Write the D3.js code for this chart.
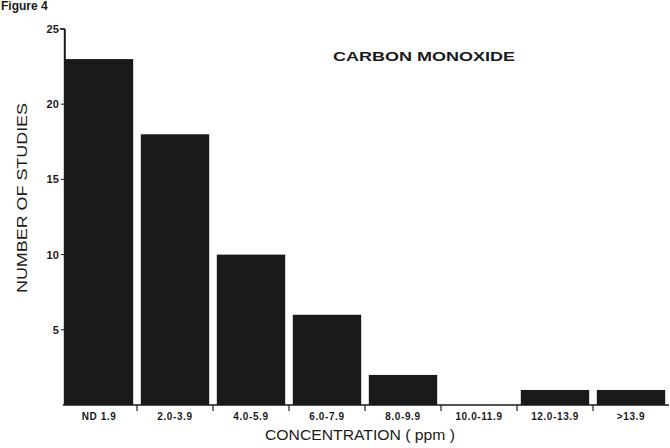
<!DOCTYPE html>
<html>
<head>
<meta charset="utf-8">
<script src="https://cdn.jsdelivr.net/npm/d3@7"></script>
<style>
  body { margin: 0; background: #fff; }
  text { font-family: "Liberation Sans", Arial, sans-serif; fill: #1a1a1a; }
</style>
</head>
<body>
<svg id="canvas"></svg>
<script>
var w = 670
var h = 448

// ########## Data ##########
var categories = ["ND 1.9", "2.0-3.9", "4.0-5.9", "6.0-7.9", "8.0-9.9", "10.0-11.9", "12.0-13.9", ">13.9"];
var studies = [23, 18, 10, 6, 2, 0, 1, 1];
var yTicks = [5, 10, 15, 20, 25];

// ########## SVG ##########
var svg = d3.select("#canvas")
    .attr("width", w)
    .attr("height", h);

svg.append("rect")
    .attr("width", w)
    .attr("height", h)
    .attr("fill", "#fff");

// ########## Scales ##########
var x = d3.scaleBand()
    .domain(categories)
    .range([61, 669])
    .paddingInner(0.1)
    .paddingOuter(0.05);

var y = d3.scaleLinear()
    .domain([0, 25])
    .range([405, 29]);

var ink = "#1a1a1a";

// ########## Bars ##########
svg.selectAll(".bar")
    .data(categories).enter()
    .append("rect")
    .attr("class", "bar")
    .attr("x", function (d) { return x(d); })
    .attr("y", function (d, i) { return y(studies[i]); })
    .attr("width", x.bandwidth())
    .attr("height", function (d, i) { return y(0) - y(studies[i]); })
    .attr("fill", ink);

// ########## Y axis ##########
var axisX = x(categories[0]);

svg.append("line")
    .attr("x1", axisX).attr("x2", axisX)
    .attr("y1", y(25)).attr("y2", y(0))
    .attr("stroke", ink).attr("stroke-width", 2);

svg.append("line")
    .attr("x1", axisX - 5).attr("x2", axisX)
    .attr("y1", y(25)).attr("y2", y(25))
    .attr("stroke", ink).attr("stroke-width", 1.5);

svg.selectAll(".ytick")
    .data(yTicks).enter()
    .append("line")
    .attr("class", "ytick")
    .attr("x1", axisX - 4).attr("x2", axisX)
    .attr("y1", function (d) { return y(d); })
    .attr("y2", function (d) { return y(d); })
    .attr("stroke", ink).attr("stroke-width", 1);

svg.selectAll(".ylabel")
    .data(yTicks).enter()
    .append("text")
    .attr("class", "ylabel")
    .attr("x", axisX - 6)
    .attr("y", function (d) { return y(d) + 4; })
    .attr("text-anchor", "end")
    .attr("font-size", 11)
    .attr("font-weight", "bold")
    .text(function (d) { return d; });

// ########## X axis ##########
svg.append("line")
    .attr("x1", axisX - 2).attr("x2", 669)
    .attr("y1", y(0)).attr("y2", y(0))
    .attr("stroke", ink).attr("stroke-width", 1.5);

var gap = x.step() - x.bandwidth();
svg.selectAll(".xtick")
    .data(categories.slice(1)).enter()
    .append("line")
    .attr("class", "xtick")
    .attr("x1", function (d) { return x(d) - gap / 2; })
    .attr("x2", function (d) { return x(d) - gap / 2; })
    .attr("y1", y(0))
    .attr("y2", y(0) + 6)
    .attr("stroke", ink).attr("stroke-width", 1.2);

svg.selectAll(".xlabel")
    .data(categories).enter()
    .append("text")
    .attr("class", "xlabel")
    .attr("x", function (d) { return x(d) + x.bandwidth() / 2; })
    .attr("y", 420)
    .attr("text-anchor", "middle")
    .attr("font-size", 10)
    .attr("font-weight", "bold")
    .attr("letter-spacing", 0.6)
    .text(function (d) { return d; });

// ########## Titles ##########
svg.append("text")
    .attr("x", 360)
    .attr("y", 440)
    .attr("text-anchor", "middle")
    .attr("font-family", "DejaVu Sans, sans-serif")
    .attr("font-size", 14)
    .attr("textLength", 190)
    .attr("lengthAdjust", "spacingAndGlyphs")
    .text("CONCENTRATION ( ppm )");

svg.append("text")
    .attr("transform", "translate(27,198) rotate(-90)")
    .attr("text-anchor", "middle")
    .attr("font-family", "DejaVu Sans, sans-serif")
    .attr("font-size", 14)
    .attr("textLength", 190)
    .attr("lengthAdjust", "spacingAndGlyphs")
    .text("NUMBER OF STUDIES");

svg.append("text")
    .attr("x", 424)
    .attr("y", 61)
    .attr("text-anchor", "middle")
    .attr("font-family", "DejaVu Sans, sans-serif")
    .attr("font-size", 13)
    .attr("font-weight", "bold")
    .attr("textLength", 182)
    .attr("lengthAdjust", "spacingAndGlyphs")
    .attr("fill", "#333")
    .text("CARBON MONOXIDE");

svg.append("text")
    .attr("x", 1)
    .attr("y", 10)
    .attr("font-family", "Liberation Serif, serif")
    .attr("font-size", 12)
    .attr("font-weight", "bold")
    .text("Figure 4");
</script>
</body>
</html>
